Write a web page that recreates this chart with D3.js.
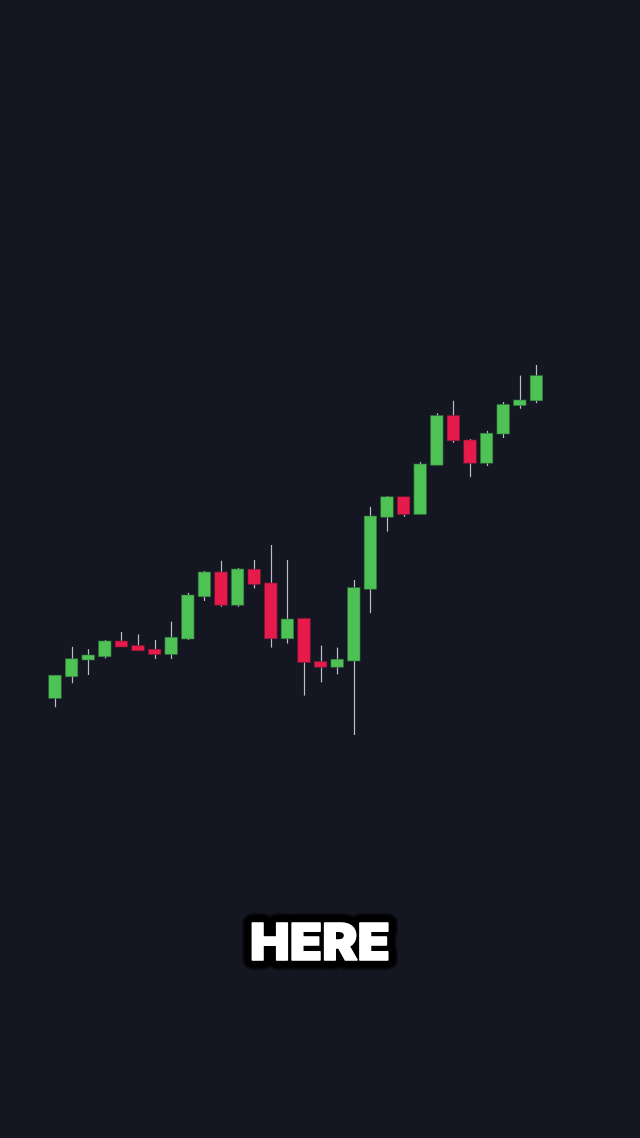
<!DOCTYPE html>
<html>
<head>
<meta charset="utf-8">
<script src="https://cdn.jsdelivr.net/npm/d3@7"></script>
<style>
  html, body { margin: 0; padding: 0; background: #141621; }
  svg { display: block; }
</style>
</head>
<body id="body">
<script>
// candle data (arbitrary price units)
let opens  = [15.4, 20.8, 25.0, 25.8, 29.75, 28.6, 27.7, 26.4, 30.25, 40.8,
              47.0, 38.7, 47.7, 44.25, 30.3, 35.4, 24.6, 23.2, 24.75, 42.7,
              60.7, 65.8, 61.4, 73.7, 86.1, 80.0, 74.2, 81.5, 88.6, 89.8];
let closes = [21.2, 25.3, 26.25, 29.75, 28.25, 27.3, 26.4, 30.7, 41.25, 47.0,
              38.7, 47.75, 43.9, 30.3, 35.25, 24.4, 23.2, 25.2, 43.1, 61.0,
              65.8, 61.4, 74.0, 86.1, 79.8, 74.2, 81.7, 88.9, 90.0, 96.1];
let highs  = [21.2, 28.3, 27.7, 30.0, 32.0, 31.4, 30.0, 34.6, 41.8, 47.25,
              49.8, 48.0, 50.0, 53.75, 50.0, 35.4, 28.6, 28.1, 45.0, 63.3,
              66.0, 65.8, 74.5, 86.7, 89.8, 80.25, 82.3, 89.5, 96.1, 98.75];
let lows   = [13.2, 19.2, 21.25, 25.4, 28.25, 27.3, 25.25, 25.25, 30.0, 39.75,
              38.3, 38.3, 42.9, 28.1, 29.1, 16.1, 19.4, 21.4, 6.25, 36.7,
              57.1, 60.8, 61.4, 73.7, 79.3, 70.7, 73.5, 80.5, 87.8, 89.2];
let caption = "HERE";

let width = 640;
let height = 1138;
let bodyWidth = 12.5;
let upColor = "#4fc255";
let downColor = "#e61a4b";

let candles = opens.map(function (o, i) {
    return { i: i, open: o, close: closes[i], high: highs[i], low: lows[i] };
});

let svg = d3.select("body")
    .append("svg")
    .attr("width", width)
    .attr("height", height)
    .style("background-color", "#141621");

//soft edge for the caption outline
svg.append("defs")
    .append("filter")
    .attr("id", "soft")
    .attr("x", "-20%").attr("y", "-40%")
    .attr("width", "140%").attr("height", "180%")
    .append("feGaussianBlur")
    .attr("stdDeviation", 1.2);

//x position of each candle centre
let xScale = d3.scalePoint()
    .domain(candles.map((d) => d.i))
    .range([55, 536.4]);

let yScale = d3.scaleLinear()
    .domain([0, 100])
    .range([760, 360]);

let g = svg.append("g");

//wicks
g.selectAll("line.wick")
    .data(candles)
    .enter()
    .append("line")
    .attr("class", "wick")
    .attr("x1", (d) => Math.round(xScale(d.i)) + 0.5)
    .attr("x2", (d) => Math.round(xScale(d.i)) + 0.5)
    .attr("y1", (d) => yScale(d.high))
    .attr("y2", (d) => yScale(d.low))
    .style("stroke", "#b9bdc6")
    .style("stroke-width", 1.2);

//bodies
g.selectAll("rect.body")
    .data(candles)
    .enter()
    .append("rect")
    .attr("class", "body")
    .attr("x", (d) => xScale(d.i) - bodyWidth / 2)
    .attr("y", (d) => yScale(Math.max(d.open, d.close)))
    .attr("width", bodyWidth)
    .attr("height", (d) => Math.max(1, Math.abs(yScale(d.open) - yScale(d.close))))
    .style("fill", (d) => d.close >= d.open ? upColor : downColor)
    .style("stroke", (d) => d.close >= d.open ? "#2e6e3a" : "#7a1a33")
    .style("stroke-width", 0.6);

//caption with black rounded outline
let cap = svg.append("g").attr("transform", "translate(320,960)");
function captionText(sel) {
    return sel.append("text")
        .attr("text-anchor", "middle")
        .attr("textLength", 140)
        .attr("lengthAdjust", "spacingAndGlyphs")
        .style("font-family", "Inter, 'Open Sans', sans-serif")
        .style("font-weight", 900)
        .style("font-size", "51px")
        .text(caption);
}
captionText(cap)
    .attr("filter", "url(#soft)")
    .style("fill", "#000")
    .style("stroke", "#000")
    .style("stroke-width", 18)
    .style("stroke-linejoin", "round");
captionText(cap)
    .style("fill", "#ffffff")
    .style("stroke", "#ffffff")
    .style("stroke-width", 1.6)
    .style("stroke-linejoin", "round");
</script>
</body>
</html>
